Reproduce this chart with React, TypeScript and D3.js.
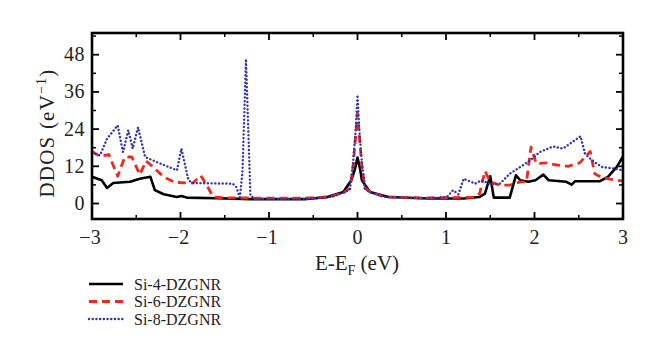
import React from "react";
import * as d3 from "d3";

const xTicks = [-3, -2, -1, 0, 1, 2, 3];
const yTicks = [0, 12, 24, 36, 48];
const seriesNames = ["Si-4-DZGNR", "Si-6-DZGNR", "Si-8-DZGNR"];

const si4: [number, number][] = [
  [-3, 8.6], [-2.89, 7.5], [-2.83, 5.0], [-2.76, 6.6], [-2.57, 7.0], [-2.46, 8.0], [-2.34, 8.6],
  [-2.29, 4.3], [-2.19, 3.0], [-2.04, 2.1], [-1.99, 2.4], [-1.93, 1.9], [-1.6, 1.7], [-1.2, 1.4],
  [-0.6, 1.4], [-0.35, 2.0], [-0.16, 3.7], [-0.07, 7.5], [-0.03, 11], [0, 14.8], [0.03, 11],
  [0.05, 7.5], [0.14, 3.7], [0.35, 2.1], [0.8, 1.6], [1.2, 1.6], [1.38, 2.1], [1.44, 3.2],
  [1.5, 8.8], [1.54, 1.9], [1.72, 1.9], [1.79, 9.1], [1.84, 7.5], [1.93, 7.0], [2.01, 7.5],
  [2.1, 9.3], [2.16, 7.5], [2.36, 7.0], [2.42, 6.1], [2.46, 7.2], [2.74, 7.2], [2.83, 8.6],
  [2.93, 11.8], [3, 15.2],
];

const si6: [number, number][] = [
  [-3, 16.8], [-2.91, 15.2], [-2.81, 15.8], [-2.71, 8.8], [-2.63, 15.0], [-2.55, 15.0],
  [-2.46, 9.3], [-2.39, 13.7], [-2.31, 11.8], [-2.19, 8.6], [-2.06, 6.8], [-1.86, 6.6],
  [-1.77, 9.0], [-1.7, 5.7], [-1.63, 2.1], [-1.5, 1.8], [-0.6, 1.7], [-0.3, 2.2], [-0.15, 3.6],
  [-0.085, 5], [-0.05, 12], [-0.02, 22], [0, 29], [0.02, 22], [0.05, 12], [0.085, 5],
  [0.15, 3.6], [0.3, 2.2], [0.7, 1.8], [1.31, 2.0], [1.38, 3.2], [1.44, 10.5], [1.5, 7.0],
  [1.61, 5.9], [1.72, 5.9], [1.84, 7.0], [1.91, 7.0], [1.96, 18.2], [2.02, 12.9], [2.14, 13.1],
  [2.23, 12.5], [2.38, 12.0], [2.51, 13.1], [2.63, 16.8], [2.68, 9.6], [2.76, 8.4], [2.85, 7.9],
  [3, 7.2],
];

const si8: [number, number][] = [
  [-3, 16.3], [-2.91, 15.5], [-2.83, 20.9], [-2.71, 25.2], [-2.65, 16.6], [-2.59, 23.6],
  [-2.54, 17.7], [-2.48, 24.6], [-2.4, 15.0], [-2.23, 12.9], [-2.04, 10.7], [-1.99, 17.7],
  [-1.91, 7.5], [-1.86, 6.6], [-1.41, 6.4], [-1.37, 5.3], [-1.33, 2.0], [-1.3, 10],
  [-1.26, 46.6], [-1.21, 2.5], [-1.15, 1.5], [-0.6, 1.5], [-0.3, 2.1], [-0.15, 3.6],
  [-0.085, 4.5], [-0.05, 13], [-0.02, 24], [0, 35], [0.02, 24], [0.05, 13], [0.085, 4.5],
  [0.15, 3.6], [0.3, 2.1], [0.8, 1.6], [1.01, 2.1], [1.08, 4.3], [1.14, 3.0], [1.2, 8.0],
  [1.33, 6.4], [1.4, 7.5], [1.52, 6.1], [1.61, 6.4], [1.72, 9.6], [1.84, 11.8], [1.95, 13.9],
  [2.06, 16.6], [2.21, 18.4], [2.32, 17.7], [2.52, 21.7], [2.57, 16.1], [2.65, 13.9],
  [2.76, 11.8], [2.89, 11.3], [3, 10.7],
];

const W = 660, H = 355;
const L = 92, R = 623, T = 33, B = 219;
const FONT = "'Liberation Serif', 'DejaVu Serif', serif";

const styles = [
  { color: "#000000", width: 2.6, dash: "none", cap: "butt" },
  { color: "#ee2a1f", width: 2.8, dash: "8,5", cap: "butt" },
  { color: "#3535a5", width: 2.4, dash: "0.1,3.6", cap: "round" },
];

export default function App() {
  const x = d3.scaleLinear().domain([-3, 3]).range([L, R]);
  const y = d3.scaleLinear().domain([-5, 55]).range([B, T]);
  const line = d3.line<[number, number]>().x((d) => x(d[0])).y((d) => y(d[1]));
  const data = [si4, si6, si8];
  const xMinor = d3.range(-2.5, 3, 1);
  const yMinor = d3.range(-6, 55, 6).filter((v) => v > -5 && v < 55 && v % 12 !== 0);

  return (
    <svg width={W} height={H} style={{ position: "absolute", left: 0, top: 0, background: "#fff" }} fontFamily={FONT}>
      <defs>
        <clipPath id="plot">
          <rect x={L} y={T} width={R - L} height={B - T} />
        </clipPath>
      </defs>
      <g clipPath="url(#plot)">
        {data.map((d, i) => (
          <path key={i} d={line(d) || ""} fill="none" stroke={styles[i].color} strokeWidth={styles[i].width}
            strokeDasharray={styles[i].dash} strokeLinecap={styles[i].cap as any} strokeLinejoin="round" />
        ))}
      </g>
      {xTicks.map((t) => (
        <g key={"xt" + t}>
          <line x1={x(t)} x2={x(t)} y1={B} y2={B - 7} stroke="#000" strokeWidth={1.8} />
          <line x1={x(t)} x2={x(t)} y1={T} y2={T + 7} stroke="#000" strokeWidth={1.8} />
          <text x={x(t) + (t < 0 ? -2 : 0)} y={244} textAnchor="middle" fontSize={20} fill="#222">{t < 0 ? "\u2212" + Math.abs(t) : t}</text>
        </g>
      ))}
      {xMinor.map((t) => (
        <g key={"xm" + t}>
          <line x1={x(t)} x2={x(t)} y1={B} y2={B - 4} stroke="#000" strokeWidth={1.5} />
          <line x1={x(t)} x2={x(t)} y1={T} y2={T + 4} stroke="#000" strokeWidth={1.5} />
        </g>
      ))}
      {yTicks.map((t) => (
        <g key={"yt" + t}>
          <line x1={L} x2={L + 7} y1={y(t)} y2={y(t)} stroke="#000" strokeWidth={1.8} />
          <line x1={R} x2={R - 7} y1={y(t)} y2={y(t)} stroke="#000" strokeWidth={1.8} />
          <text x={85} y={y(t) + 6.5} textAnchor="end" fontSize={20} letterSpacing={0.5} fill="#222">{t}</text>
        </g>
      ))}
      {yMinor.map((t) => (
        <g key={"ym" + t}>
          <line x1={L} x2={L + 4} y1={y(t)} y2={y(t)} stroke="#000" strokeWidth={1.5} />
          <line x1={R} x2={R - 4} y1={y(t)} y2={y(t)} stroke="#000" strokeWidth={1.5} />
        </g>
      ))}
      <rect x={L} y={T} width={R - L} height={B - T} fill="none" stroke="#000" strokeWidth={2.6} />
      <text x={357} y={270} textAnchor="middle" fontSize={21} fill="#222">
        E-E<tspan fontSize={14} dy={5}>F</tspan><tspan dy={-5}> (eV)</tspan>
      </text>
      <text transform={`translate(54,133) rotate(-90)`} textAnchor="middle" fontSize={21} letterSpacing={1.2} fill="#222">
        DDOS (eV<tspan fontSize={14} dy={-8}>{"\u22121"}</tspan><tspan dy={8}>)</tspan>
      </text>
      {seriesNames.map((n, i) => (
        <g key={n}>
          <line x1={89} x2={123} y1={284 + i * 17.5} y2={284 + i * 17.5} stroke={styles[i].color}
            strokeWidth={styles[i].width} strokeDasharray={styles[i].dash} strokeLinecap={styles[i].cap as any} />
          <text x={134} y={289.5 + i * 17.5} fontSize={16} fill="#222">{n}</text>
        </g>
      ))}
    </svg>
  );
}
